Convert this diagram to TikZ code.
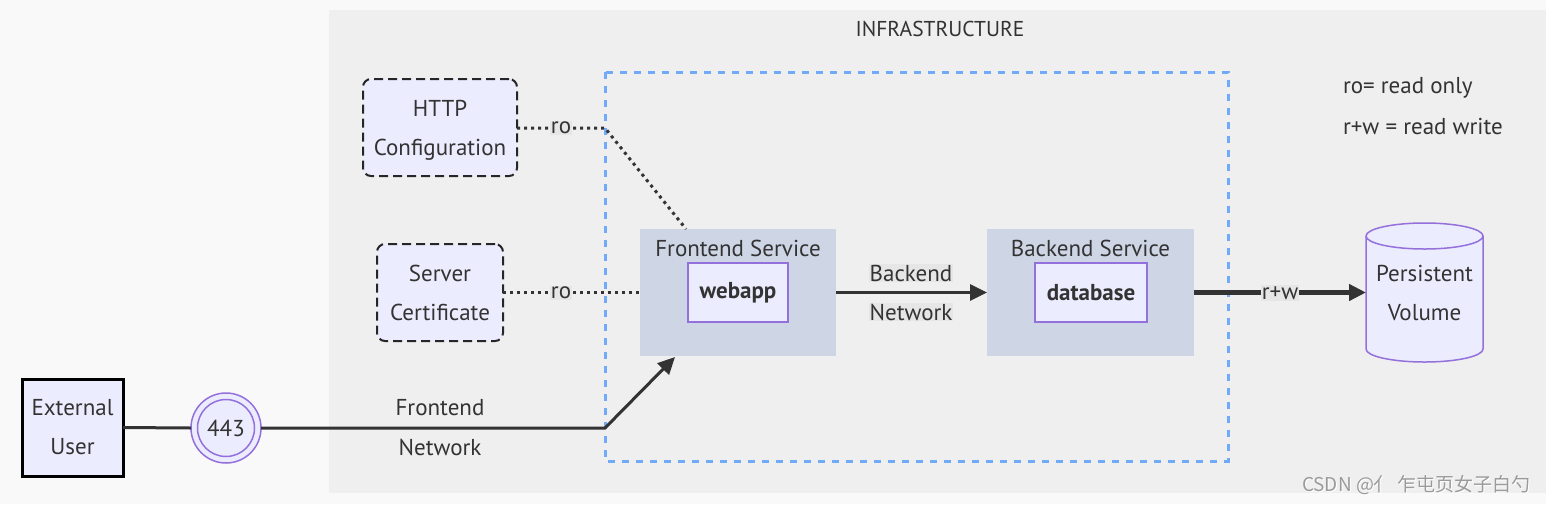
\documentclass[tikz,border=0pt]{standalone}
\usepackage{fontspec}
\setmainfont{PT Sans}
\newfontfamily\cjk{Noto Sans CJK SC}
\usetikzlibrary{arrows.meta}
\definecolor{txt}{HTML}{333333}
\definecolor{pagebg}{HTML}{F9F9F9}
\definecolor{infrabg}{HTML}{EFEFEF}
\definecolor{nodefill}{HTML}{ECECFF}
\definecolor{nodestroke}{HTML}{9370DB}
\definecolor{svcfill}{HTML}{CED6E6}
\definecolor{bluedash}{HTML}{70AAF8}
\definecolor{labelbg}{HTML}{E6E6E6}
\definecolor{wm}{HTML}{9A9A9A}
\tikzset{
  base/.style={text=txt, font=\fontsize{23}{39}\selectfont, inner sep=0pt, outer sep=0pt, align=center},
  plainbox/.style={base, draw=nodestroke, fill=nodefill, line width=1.5pt},
  volbox/.style={base, dashed box},
  dashed box/.style={draw=black!85, fill=nodefill, line width=2pt, dash pattern=on 9pt off 5pt, rounded corners=8pt},
  svc/.style={base, fill=svcfill},
  edge/.style={draw=txt, line width=3pt},
  thickedge/.style={draw=txt, line width=5pt},
  dotedge/.style={draw=txt, line width=3pt, dash pattern=on 3pt off 4pt},
  tip/.style={-{Triangle[length=17pt,width=16pt]}},
  elabel/.style={base, fill=labelbg, inner sep=1pt},
}
\begin{document}
\begin{tikzpicture}[x=1pt,y=1pt]
\useasboundingbox (0,0) rectangle (1546,-504);
\fill[pagebg] (0,0) rectangle (1546,-504);
% infrastructure cluster
\fill[infrabg] (329,-10) rectangle (1546,-493);
\node[base, font=\fontsize{21.5}{26}\selectfont] (infralabel) at (940,-29) {INFRASTRUCTURE};
% blue dashed group
\draw[bluedash, line width=3pt, dash pattern=on 7pt off 7pt] (605,-72) rectangle (1228,-461);
% service clusters
\node[svc, minimum width=196pt, minimum height=127pt] (fs) at (738,-292.5) {};
\node[base] (fslabel) at (738,-248) {Frontend Service};
\node[svc, minimum width=207pt, minimum height=127pt] (bs) at (1090.5,-292.5) {};
\node[base] (bslabel) at (1090.5,-248) {Backend Service};
\node[plainbox, minimum width=100pt, minimum height=59pt, font=\fontsize{23}{39}\selectfont\bfseries] (webapp) at (738,-292.5) {webapp};
\node[plainbox, minimum width=112pt, minimum height=59pt, font=\fontsize{23}{39}\selectfont\bfseries] (database) at (1091,-292.5) {database};
% config nodes
\node[volbox, minimum width=154pt, minimum height=97pt] (http) at (440,-127.5) {};
\node[base] (httptext) at (440,-130.5) {HTTP\\Configuration};
\node[volbox, minimum width=126pt, minimum height=97pt] (cert) at (440,-292.5) {Server\\Certificate};
% external user
\node[base, draw=black, line width=3pt, fill=nodefill, minimum width=101pt, minimum height=97pt] (eu) at (72.5,-427.5) {External\\User};
% 443
\node[base, circle, draw=nodestroke, line width=1.5pt, fill=nodefill, minimum size=70pt] (p443) at (226,-428) {};
\draw[nodestroke, line width=1.5pt] (p443.center) circle (28.5);
\node[base] (p443t) at (226,-428) {443};
% persistent volume
\node[base, minimum width=117pt, minimum height=139pt] (pv) at (1424.5,-292.5) {};
\path[fill=nodefill, draw=nodestroke, line width=1.5pt]
  (1366,-236) -- (1366,-349) arc (180:360:58.5 and 13) -- (1483,-236) arc (0:180:58.5 and 13) -- cycle;
\draw[nodestroke, line width=1.5pt] (1366,-236) arc (180:360:58.5 and 13);
\node[base] (pvt) at (1424.5,-293) {Persistent\\Volume};
% coordinates for connectors
\coordinate (httpbend) at (605,-128);
\coordinate (httpend) at (686,-229);
\coordinate (fbend) at (605,-428);
\coordinate (fsin) at (675,-357);
% connectors
\draw[edge] (eu.east) -- (p443.west);
\draw[edge, tip] (p443.east) -- (fbend) -- (fsin);
\draw[dotedge] (http.east |- httpbend) -- (httpbend) -- (httpend);
\draw[dotedge] (cert.east |- fs.west) -- (fs.west);
\draw[edge, tip] (fs.east) -- (bs.west);
\draw[thickedge, tip] (bs.east) -- (pv.west);
% edge labels
\node[elabel] (ro1) at (561,-128) {ro};
\node[elabel] (ro2) at (561,-293) {ro};
\node[base] (fn1) at (440,-408) {Frontend};
\node[base] (fn2) at (440,-447) {Network};
\node[elabel] (bn1) at (911,-273) {Backend};
\node[elabel] (bn2) at (911,-312) {Network};
\node[elabel] (rw) at (1280,-293) {r+w};
% legend
\node[base, anchor=west] (leg1) at (1343,-88) {ro= read only};
\node[base, anchor=west] (leg2) at (1343,-126) {r+w = read write};
% watermark
\node[base, anchor=west, text=white, font=\cjk\fontsize{19}{21}\selectfont] (wmshadow) at (1303,-486) {CSDN @亻 乍屯页女子白勺};
\node[base, anchor=west, text=wm, font=\cjk\fontsize{19}{21}\selectfont] (wmtext) at (1302,-485) {CSDN @亻 乍屯页女子白勺};
\end{tikzpicture}
\end{document}
